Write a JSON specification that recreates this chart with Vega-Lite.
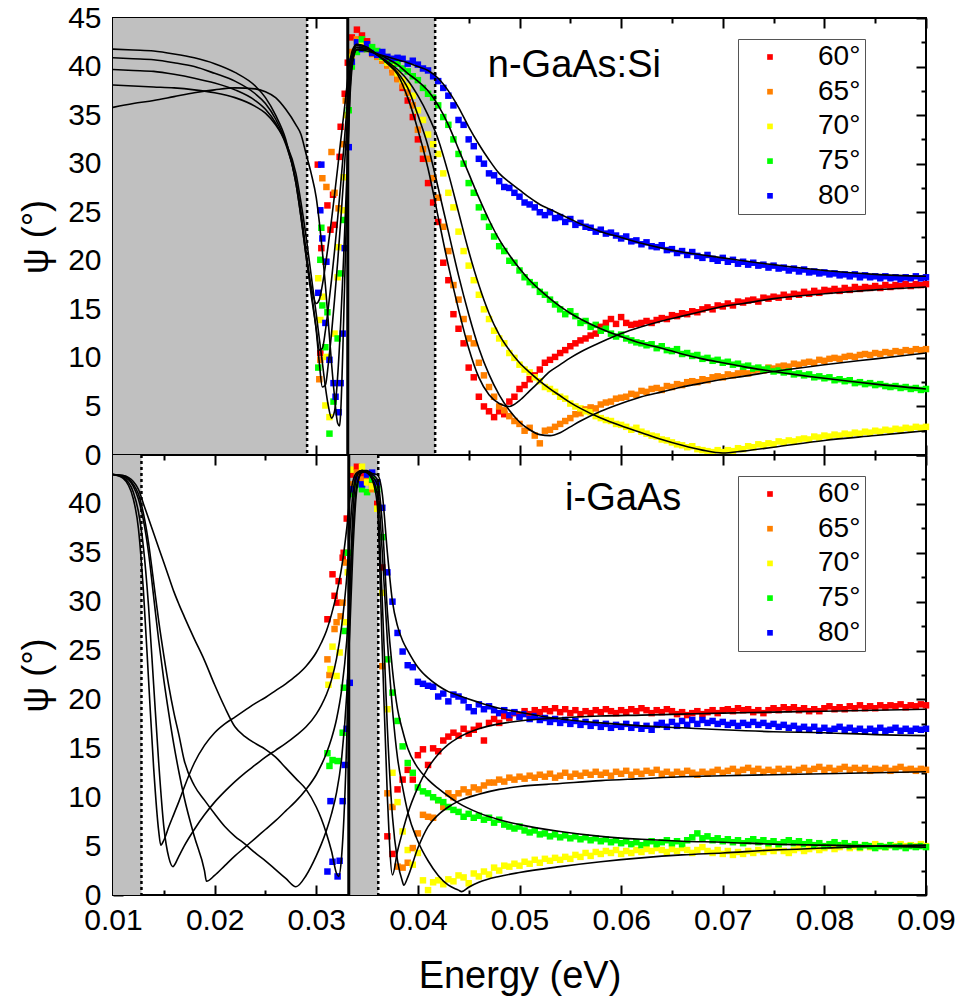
{
"$schema":"https://vega.github.io/schema/vega-lite/v6.json",
"background":"white",
"padding":{"left":17,"top":2,"right":0,"bottom":0},
"spacing":0,
"bounds":"flush",
"datasets":{
"tp":[
{"e":0.0335,"r":43.0,"o":41.5,"y":41.0,"g":40.0,"b":40.5},
{"e":0.034,"r":43.8,"o":42.8,"y":42.5,"g":41.5,"b":42.5},
{"e":0.0345,"r":43.2,"o":42.2,"y":42.6,"g":42.8,"b":41.8},
{"e":0.035,"r":42.6,"o":41.8,"y":42.0,"g":41.8,"b":42.3},
{"e":0.0355,"r":41.5,"o":41.3,"y":41.7,"g":42.0,"b":41.4},
{"e":0.036,"r":41.3,"o":41.0,"y":41.2,"g":41.6,"b":41.2},
{"e":0.0365,"r":40.8,"o":40.6,"y":40.9,"g":41.0,"b":41.5},
{"e":0.037,"r":40.2,"o":40.1,"y":40.4,"g":40.7,"b":41.0},
{"e":0.0375,"r":39.7,"o":39.4,"y":40.0,"g":40.6,"b":40.8},
{"e":0.038,"r":38.8,"o":38.7,"y":39.3,"g":40.3,"b":40.9},
{"e":0.0385,"r":37.8,"o":38.0,"y":38.6,"g":39.8,"b":40.8},
{"e":0.039,"r":36.5,"o":37.3,"y":38.0,"g":39.5,"b":40.3},
{"e":0.0395,"r":34.8,"o":36.0,"y":37.0,"g":39.0,"b":40.6},
{"e":0.04,"r":32.5,"o":33.5,"y":35.5,"g":38.6,"b":40.2},
{"e":0.0405,"r":30.5,"o":31.5,"y":34.5,"g":37.8,"b":39.8},
{"e":0.041,"r":28.0,"o":30.5,"y":33.0,"g":37.2,"b":39.6},
{"e":0.0415,"r":26.0,"o":28.5,"y":32.0,"g":36.8,"b":39.0},
{"e":0.042,"r":24.0,"o":26.5,"y":31.0,"g":36.0,"b":38.5},
{"e":0.0425,"r":19.8,"o":23.5,"y":29.0,"g":34.8,"b":37.8},
{"e":0.043,"r":18.0,"o":21.0,"y":27.0,"g":34.0,"b":37.0},
{"e":0.0435,"r":14.5,"o":17.5,"y":25.5,"g":32.5,"b":36.0},
{"e":0.044,"r":13.0,"o":16.0,"y":23.0,"g":31.0,"b":34.5},
{"e":0.0445,"r":11.5,"o":14.0,"y":21.0,"g":30.0,"b":34.0},
{"e":0.045,"r":9.0,"o":12.0,"y":19.5,"g":28.0,"b":32.5},
{"e":0.0455,"r":8.0,"o":11.5,"y":18.0,"g":27.0,"b":31.8},
{"e":0.046,"r":6.0,"o":9.5,"y":16.5,"g":25.5,"b":30.5},
{"e":0.0465,"r":5.0,"o":8.2,"y":15.0,"g":24.5,"b":30.0},
{"e":0.047,"r":4.5,"o":7.0,"y":14.0,"g":23.5,"b":29.0},
{"e":0.0475,"r":3.9,"o":6.0,"y":12.8,"g":22.5,"b":28.8},
{"e":0.048,"r":4.5,"o":5.0,"y":12.0,"g":21.5,"b":28.2},
{"e":0.0485,"r":4.2,"o":4.6,"y":11.5,"g":21.0,"b":27.6},
{"e":0.049,"r":5.5,"o":4.0,"y":10.5,"g":20.0,"b":27.5},
{"e":0.0495,"r":6.0,"o":3.5,"y":10.0,"g":19.8,"b":27.0},
{"e":0.05,"r":6.8,"o":3.2,"y":9.3,"g":19.0,"b":26.6},
{"e":0.0505,"r":7.2,"o":2.5,"y":8.8,"g":18.3,"b":26.0},
{"e":0.051,"r":7.8,"o":2.8,"y":8.5,"g":17.8,"b":25.8},
{"e":0.0515,"r":8.2,"o":2.0,"y":8.0,"g":17.5,"b":25.5},
{"e":0.052,"r":8.8,"o":1.2,"y":7.6,"g":16.8,"b":25.0},
{"e":0.0525,"r":9.5,"o":2.5,"y":7.0,"g":16.5,"b":24.7},
{"e":0.053,"r":9.8,"o":2.6,"y":6.8,"g":16.0,"b":25.0},
{"e":0.0535,"r":10.1,"o":2.9,"y":6.5,"g":15.5,"b":24.4},
{"e":0.054,"r":10.5,"o":3.2,"y":6.0,"g":15.0,"b":24.5},
{"e":0.0545,"r":10.8,"o":3.5,"y":5.8,"g":14.5,"b":24.0},
{"e":0.055,"r":11.2,"o":3.8,"y":5.3,"g":14.8,"b":24.3},
{"e":0.0555,"r":11.5,"o":4.2,"y":5.0,"g":14.3,"b":23.7},
{"e":0.056,"r":11.8,"o":4.3,"y":4.8,"g":13.6,"b":23.9},
{"e":0.0565,"r":12.0,"o":4.7,"y":4.5,"g":13.8,"b":23.5},
{"e":0.057,"r":12.3,"o":4.9,"y":4.4,"g":13.2,"b":23.4},
{"e":0.0575,"r":12.5,"o":4.8,"y":4.0,"g":13.4,"b":23.0},
{"e":0.058,"r":13.2,"o":5.2,"y":3.8,"g":12.8,"b":23.2},
{"e":0.0585,"r":13.6,"o":5.4,"y":3.6,"g":13.0,"b":22.8},
{"e":0.059,"r":14.0,"o":5.5,"y":3.5,"g":12.5,"b":22.9},
{"e":0.0595,"r":13.5,"o":5.8,"y":3.2,"g":12.2,"b":22.6},
{"e":0.06,"r":14.2,"o":5.9,"y":3.1,"g":12.4,"b":22.3},
{"e":0.0605,"r":13.6,"o":6.0,"y":2.9,"g":12.0,"b":22.5},
{"e":0.061,"r":13.4,"o":6.3,"y":2.6,"g":11.8,"b":22.0},
{"e":0.0615,"r":13.5,"o":6.2,"y":2.8,"g":11.6,"b":22.1},
{"e":0.062,"r":13.6,"o":6.6,"y":2.4,"g":11.5,"b":21.7},
{"e":0.0625,"r":13.8,"o":6.5,"y":2.2,"g":11.3,"b":21.9},
{"e":0.063,"r":13.6,"o":6.8,"y":2.0,"g":11.4,"b":21.5},
{"e":0.0635,"r":13.9,"o":6.9,"y":1.9,"g":11.0,"b":21.4},
{"e":0.064,"r":14.1,"o":6.7,"y":1.6,"g":11.2,"b":21.6},
{"e":0.0645,"r":14.0,"o":7.1,"y":1.5,"g":10.8,"b":21.1},
{"e":0.065,"r":14.4,"o":7.0,"y":1.3,"g":10.7,"b":21.2},
{"e":0.0655,"r":14.3,"o":7.3,"y":1.1,"g":10.9,"b":20.8},
{"e":0.066,"r":14.6,"o":7.2,"y":1.0,"g":10.4,"b":21.0},
{"e":0.0665,"r":14.5,"o":7.5,"y":0.8,"g":10.5,"b":20.6},
{"e":0.067,"r":14.8,"o":7.6,"y":0.9,"g":10.2,"b":20.9},
{"e":0.0675,"r":14.7,"o":7.5,"y":0.6,"g":10.3,"b":20.5},
{"e":0.068,"r":15.0,"o":7.8,"y":0.5,"g":9.9,"b":20.3},
{"e":0.0685,"r":15.2,"o":7.7,"y":0.4,"g":10.0,"b":20.6},
{"e":0.069,"r":15.0,"o":8.0,"y":0.3,"g":9.7,"b":20.2},
{"e":0.0695,"r":15.4,"o":8.1,"y":0.5,"g":9.8,"b":20.0},
{"e":0.07,"r":15.3,"o":8.0,"y":0.3,"g":9.5,"b":20.3},
{"e":0.0705,"r":15.6,"o":8.3,"y":0.5,"g":9.6,"b":19.9},
{"e":0.071,"r":15.4,"o":8.2,"y":0.4,"g":9.3,"b":20.1},
{"e":0.0715,"r":15.8,"o":8.4,"y":0.7,"g":9.4,"b":19.7},
{"e":0.072,"r":15.7,"o":8.5,"y":0.6,"g":9.1,"b":19.9},
{"e":0.0725,"r":15.9,"o":8.4,"y":0.9,"g":9.2,"b":19.6},
{"e":0.073,"r":16.0,"o":8.7,"y":0.8,"g":8.9,"b":19.8},
{"e":0.0735,"r":15.8,"o":8.8,"y":1.1,"g":9.0,"b":19.5},
{"e":0.074,"r":16.2,"o":8.7,"y":1.0,"g":8.8,"b":19.6},
{"e":0.0745,"r":16.1,"o":9.0,"y":1.2,"g":8.9,"b":19.3},
{"e":0.075,"r":16.3,"o":8.9,"y":1.1,"g":8.6,"b":19.5},
{"e":0.0755,"r":16.2,"o":9.1,"y":1.4,"g":8.7,"b":19.2},
{"e":0.076,"r":16.5,"o":9.2,"y":1.3,"g":8.5,"b":19.3},
{"e":0.0765,"r":16.3,"o":9.1,"y":1.5,"g":8.6,"b":19.0},
{"e":0.077,"r":16.6,"o":9.4,"y":1.4,"g":8.3,"b":19.2},
{"e":0.0775,"r":16.5,"o":9.3,"y":1.6,"g":8.4,"b":18.9},
{"e":0.078,"r":16.8,"o":9.5,"y":1.7,"g":8.2,"b":19.1},
{"e":0.0785,"r":16.6,"o":9.6,"y":1.6,"g":8.3,"b":18.8},
{"e":0.079,"r":16.9,"o":9.5,"y":1.9,"g":8.0,"b":18.9},
{"e":0.0795,"r":16.7,"o":9.8,"y":1.8,"g":8.1,"b":18.7},
{"e":0.08,"r":17.0,"o":9.7,"y":2.0,"g":7.9,"b":18.8},
{"e":0.0805,"r":16.9,"o":9.9,"y":1.9,"g":8.0,"b":18.6},
{"e":0.081,"r":17.1,"o":10.0,"y":2.1,"g":7.7,"b":18.7},
{"e":0.0815,"r":16.9,"o":9.9,"y":2.0,"g":7.8,"b":18.5},
{"e":0.082,"r":17.2,"o":10.1,"y":2.2,"g":7.6,"b":18.6},
{"e":0.0825,"r":17.0,"o":10.2,"y":2.1,"g":7.7,"b":18.4},
{"e":0.083,"r":17.3,"o":10.1,"y":2.3,"g":7.4,"b":18.6},
{"e":0.0835,"r":17.1,"o":10.3,"y":2.2,"g":7.5,"b":18.3},
{"e":0.084,"r":17.3,"o":10.4,"y":2.4,"g":7.3,"b":18.5},
{"e":0.0845,"r":17.2,"o":10.3,"y":2.3,"g":7.4,"b":18.3},
{"e":0.085,"r":17.4,"o":10.5,"y":2.5,"g":7.2,"b":18.4},
{"e":0.0855,"r":17.2,"o":10.4,"y":2.4,"g":7.3,"b":18.2},
{"e":0.086,"r":17.5,"o":10.6,"y":2.6,"g":7.1,"b":18.4},
{"e":0.0865,"r":17.3,"o":10.5,"y":2.5,"g":7.0,"b":18.2},
{"e":0.087,"r":17.5,"o":10.7,"y":2.7,"g":7.1,"b":18.3},
{"e":0.0875,"r":17.4,"o":10.6,"y":2.6,"g":6.9,"b":18.1},
{"e":0.088,"r":17.6,"o":10.8,"y":2.8,"g":7.0,"b":18.3},
{"e":0.0885,"r":17.4,"o":10.7,"y":2.7,"g":6.8,"b":18.2},
{"e":0.089,"r":17.6,"o":10.9,"y":2.9,"g":6.9,"b":18.4},
{"e":0.0895,"r":17.5,"o":10.8,"y":2.8,"g":6.7,"b":18.2},
{"e":0.09,"r":17.6,"o":10.9,"y":2.9,"g":6.8,"b":18.3}
],
"tt":[
{"a":"r","e":0.03015,"v":29.9},{"a":"r","e":0.0305,"v":21.3},{"a":"r","e":0.0311,"v":25.7},{"a":"r","e":0.0314,"v":23.2},{"a":"r","e":0.0318,"v":23.7},{"a":"r","e":0.03165,"v":26.8},{"a":"r","e":0.0323,"v":30.7},{"a":"r","e":0.0324,"v":33.8},{"a":"r","e":0.0328,"v":37.2},{"a":"r","e":0.0331,"v":40.4},{"a":"r","e":0.0304,"v":10.5},
{"a":"o","e":0.0315,"v":31.2},{"a":"o","e":0.0306,"v":28.5},{"a":"o","e":0.031,"v":27.6},{"a":"o","e":0.0318,"v":27.0},{"a":"o","e":0.0322,"v":25.4},{"a":"o","e":0.0309,"v":19.9},{"a":"o","e":0.0304,"v":9.8},{"a":"o","e":0.0303,"v":7.8},{"a":"o","e":0.0327,"v":32.0},{"a":"o","e":0.0329,"v":36.5},
{"a":"y","e":0.0302,"v":18.2},{"a":"y","e":0.0304,"v":13.9},{"a":"y","e":0.0306,"v":16.3},{"a":"y","e":0.031,"v":10.1},{"a":"y","e":0.0309,"v":5.1},{"a":"y","e":0.0313,"v":3.9},{"a":"y","e":0.0326,"v":25.2},{"a":"y","e":0.0327,"v":28.6},{"a":"y","e":0.0322,"v":21.4},{"a":"y","e":0.0321,"v":18.3},{"a":"y","e":0.033,"v":35.0},{"a":"y","e":0.0318,"v":12.5},
{"a":"g","e":0.0305,"v":23.4},{"a":"g","e":0.0304,"v":20.1},{"a":"g","e":0.0306,"v":15.4},{"a":"g","e":0.0311,"v":14.7},{"a":"g","e":0.0309,"v":11.1},{"a":"g","e":0.0302,"v":9.0},{"a":"g","e":0.0321,"v":12.0},{"a":"g","e":0.0317,"v":5.5},{"a":"g","e":0.0313,"v":2.2},{"a":"g","e":0.0324,"v":18.7},{"a":"g","e":0.0327,"v":24.2},{"a":"g","e":0.0332,"v":35.5},
{"a":"b","e":0.0304,"v":25.2},{"a":"b","e":0.0305,"v":29.9},{"a":"b","e":0.0306,"v":22.3},{"a":"b","e":0.031,"v":19.9},{"a":"b","e":0.0302,"v":16.7},{"a":"b","e":0.0309,"v":13.6},{"a":"b","e":0.0313,"v":9.8},{"a":"b","e":0.0317,"v":7.4},{"a":"b","e":0.0319,"v":6.0},{"a":"b","e":0.0322,"v":4.4},{"a":"b","e":0.0324,"v":7.4},{"a":"b","e":0.0326,"v":12.5},{"a":"b","e":0.0328,"v":21.3},{"a":"b","e":0.0332,"v":31.7}
],
"tf":[
{"e":0.010,"r":41.8,"o":40.9,"y":39.7,"g":38.1,"b":35.8},
{"e":0.012,"r":41.7,"o":40.8,"y":39.6,"g":38.0,"b":36.2},
{"e":0.014,"r":41.6,"o":40.7,"y":39.5,"g":37.9,"b":36.5},
{"e":0.016,"r":41.3,"o":40.4,"y":39.2,"g":37.8,"b":36.9},
{"e":0.018,"r":40.9,"o":40.0,"y":38.8,"g":37.6,"b":37.3},
{"e":0.020,"r":40.3,"o":39.3,"y":38.3,"g":37.3,"b":37.6},
{"e":0.022,"r":39.4,"o":38.5,"y":37.6,"g":36.8,"b":37.8},
{"e":0.024,"r":38.0,"o":37.2,"y":36.5,"g":35.9,"b":37.7},
{"e":0.025,"r":36.8,"o":36.2,"y":35.6,"g":35.2,"b":37.4},
{"e":0.026,"r":35.0,"o":34.6,"y":34.2,"g":34.0,"b":36.8},
{"e":0.027,"r":32.5,"o":32.2,"y":32.0,"g":32.2,"b":35.6},
{"e":0.028,"r":28.0,"o":28.0,"y":28.3,"g":29.0,"b":34.0},
{"e":0.0285,"r":24.5,"o":24.5,"y":25.0,"g":26.0,"b":33.0},
{"e":0.029,"r":20.5,"o":20.5,"y":21.0,"g":22.5,"b":31.0},
{"e":0.0295,"r":17.3,"o":16.5,"y":17.0,"g":18.5,"b":29.0},
{"e":0.030,"r":15.6,"o":13.0,"y":12.8,"g":14.5,"b":26.5},
{"e":0.0303,"r":16.0,"o":10.8,"y":9.5,"g":12.0,"b":24.0},
{"e":0.0306,"r":17.5,"o":11.0,"y":7.0,"g":9.5,"b":21.0},
{"e":0.0309,"r":19.5,"o":12.8,"y":7.2,"g":7.0,"b":17.5},
{"e":0.0312,"r":21.8,"o":15.3,"y":9.5,"g":5.0,"b":13.5},
{"e":0.0315,"r":24.2,"o":18.0,"y":12.5,"g":3.8,"b":9.5},
{"e":0.0318,"r":26.8,"o":21.0,"y":16.0,"g":4.5,"b":6.0},
{"e":0.0321,"r":29.5,"o":24.3,"y":19.8,"g":8.0,"b":3.3},
{"e":0.0323,"b":3.0},
{"e":0.0324,"r":32.3,"o":27.8,"y":24.0,"g":13.5,"b":4.3},
{"e":0.0327,"r":35.0,"o":31.5,"y":28.5,"g":20.5,"b":14.0},
{"e":0.033,"r":37.8,"o":35.5,"y":33.5,"g":28.5,"b":26.0},
{"e":0.0333,"r":40.5,"o":39.5,"y":38.5,"g":36.5,"b":37.0},
{"e":0.0336,"r":41.8,"o":41.5,"y":41.2,"g":40.5,"b":40.8},
{"e":0.034,"r":42.3,"o":42.2,"y":42.0,"g":41.8,"b":41.7},
{"e":0.035,"r":42.0,"o":41.9,"y":41.8,"g":41.8,"b":41.6},
{"e":0.036,"r":41.2,"o":41.2,"y":41.2,"g":41.3,"b":41.3},
{"e":0.037,"r":40.3,"o":40.4,"y":40.5,"g":40.8,"b":41.0},
{"e":0.038,"r":39.2,"o":39.4,"y":39.7,"g":40.2,"b":40.7},
{"e":0.039,"r":36.8,"o":37.8,"y":38.6,"g":39.3,"b":40.4},
{"e":0.040,"r":33.5,"o":35.0,"y":37.0,"g":38.5,"b":40.0},
{"e":0.041,"r":29.5,"o":31.8,"y":35.0,"g":37.5,"b":39.6},
{"e":0.042,"r":24.5,"o":27.5,"y":32.5,"g":36.0,"b":38.8},
{"e":0.043,"r":19.5,"o":23.0,"y":29.0,"g":34.0,"b":37.5},
{"e":0.044,"r":15.0,"o":18.5,"y":25.0,"g":31.5,"b":35.8},
{"e":0.045,"r":11.0,"o":14.5,"y":21.0,"g":29.0,"b":33.8},
{"e":0.046,"r":8.0,"o":11.0,"y":17.5,"g":26.5,"b":32.0},
{"e":0.047,"r":6.2,"o":8.3,"y":14.6,"g":24.2,"b":30.4},
{"e":0.048,"r":5.3,"o":6.2,"y":12.4,"g":22.2,"b":29.0},
{"e":0.049,"r":5.0,"o":4.6,"y":10.8,"g":20.6,"b":28.1},
{"e":0.050,"r":5.6,"o":3.4,"y":9.5,"g":19.2,"b":27.3},
{"e":0.051,"r":6.6,"o":2.6,"y":8.5,"g":18.0,"b":26.5},
{"e":0.052,"r":7.6,"o":2.1,"y":7.6,"g":17.0,"b":25.8},
{"e":0.053,"r":8.6,"o":2.0,"y":6.8,"g":16.1,"b":25.3},
{"e":0.054,"r":9.3,"o":2.3,"y":6.1,"g":15.3,"b":24.8},
{"e":0.055,"r":10.0,"o":2.9,"y":5.4,"g":14.6,"b":24.3},
{"e":0.056,"r":10.6,"o":3.5,"y":4.8,"g":14.0,"b":23.8},
{"e":0.058,"r":11.6,"o":4.5,"y":3.8,"g":13.0,"b":23.0},
{"e":0.060,"r":12.5,"o":5.3,"y":3.0,"g":12.2,"b":22.4},
{"e":0.062,"r":13.2,"o":6.0,"y":2.3,"g":11.5,"b":21.8},
{"e":0.064,"r":13.8,"o":6.5,"y":1.6,"g":11.0,"b":21.3},
{"e":0.066,"r":14.3,"o":7.0,"y":1.0,"g":10.4,"b":20.9},
{"e":0.068,"r":14.8,"o":7.4,"y":0.5,"g":9.9,"b":20.6},
{"e":0.070,"r":15.3,"o":7.8,"y":0.2,"g":9.5,"b":20.3},
{"e":0.072,"r":15.6,"o":8.1,"y":0.4,"g":9.1,"b":20.0},
{"e":0.075,"r":16.1,"o":8.6,"y":0.8,"g":8.6,"b":19.6},
{"e":0.080,"r":16.6,"o":9.3,"y":1.5,"g":7.9,"b":19.0},
{"e":0.085,"r":17.0,"o":9.9,"y":2.0,"g":7.3,"b":18.6},
{"e":0.090,"r":17.3,"o":10.5,"y":2.5,"g":6.8,"b":18.4}
],
"bp":[
{"e":0.0335,"r":43.0,"o":42.0,"y":43.5,"g":41.0,"b":41.5},
{"e":0.034,"r":43.8,"o":43.2,"y":42.5,"g":42.0,"b":42.5},
{"e":0.0345,"r":43.0,"o":42.5,"y":43.8,"g":41.5,"b":42.0},
{"e":0.035,"r":42.5,"o":42.8,"y":42.2,"g":41.2,"b":43.0},
{"e":0.0355,"r":42.0,"o":41.5,"y":41.8,"g":42.5,"b":43.2},
{"e":0.036,"r":40.0,"o":39.5,"y":39.5,"g":41.5,"b":42.2},
{"e":0.0365,"r":33.5,"o":23.4,"y":30.9,"g":36.6,"b":39.6},
{"e":0.037,"r":6.0,"o":10.4,"y":19.0,"g":24.1,"b":33.0},
{"e":0.0375,"r":4.2,"o":9.0,"y":12.5,"g":20.7,"b":30.0},
{"e":0.038,"r":10.8,"o":2.9,"y":9.5,"g":17.8,"b":26.8},
{"e":0.0385,"r":11.8,"o":2.8,"y":6.5,"g":15.2,"b":24.9},
{"e":0.039,"r":12.8,"o":3.3,"y":4.6,"g":13.5,"b":23.5},
{"e":0.0395,"r":11.8,"o":4.8,"y":3.1,"g":12.5,"b":23.3},
{"e":0.04,"r":14.3,"o":6.3,"y":4.3,"g":11.0,"b":21.8},
{"e":0.0405,"r":14.9,"o":8.2,"y":1.5,"g":10.6,"b":21.6},
{"e":0.041,"r":13.3,"o":8.0,"y":0.5,"g":10.4,"b":21.4},
{"e":0.0415,"r":15.0,"o":7.9,"y":1.3,"g":10.0,"b":21.3},
{"e":0.042,"r":14.7,"o":9.7,"y":1.5,"g":9.7,"b":20.3},
{"e":0.0425,"r":15.8,"o":9.0,"y":1.1,"g":9.5,"b":20.6},
{"e":0.043,"r":16.2,"o":10.4,"y":1.6,"g":9.0,"b":19.8},
{"e":0.0435,"r":16.6,"o":10.0,"y":1.4,"g":8.7,"b":20.5},
{"e":0.044,"r":16.3,"o":10.4,"y":2.0,"g":8.5,"b":20.3},
{"e":0.0445,"r":17.0,"o":10.8,"y":1.8,"g":8.0,"b":19.9},
{"e":0.045,"r":16.5,"o":10.5,"y":1.2,"g":8.3,"b":19.2},
{"e":0.0455,"r":16.9,"o":11.0,"y":2.2,"g":7.9,"b":18.8},
{"e":0.046,"r":17.3,"o":10.8,"y":1.9,"g":8.1,"b":19.5},
{"e":0.0465,"r":15.8,"o":11.2,"y":2.4,"g":7.7,"b":19.0},
{"e":0.047,"r":17.6,"o":11.5,"y":2.1,"g":7.9,"b":19.3},
{"e":0.0475,"r":18.0,"o":11.5,"y":2.8,"g":7.4,"b":18.9},
{"e":0.048,"r":17.6,"o":11.8,"y":2.5,"g":7.7,"b":18.6},
{"e":0.0485,"r":18.3,"o":11.6,"y":3.0,"g":7.2,"b":18.9},
{"e":0.049,"r":18.1,"o":12.0,"y":2.9,"g":7.0,"b":18.4},
{"e":0.0495,"r":18.6,"o":11.8,"y":3.2,"g":6.8,"b":18.7},
{"e":0.05,"r":18.4,"o":12.1,"y":3.0,"g":7.0,"b":18.2},
{"e":0.0505,"r":18.8,"o":11.9,"y":3.4,"g":6.6,"b":18.5},
{"e":0.051,"r":18.5,"o":12.2,"y":3.2,"g":6.4,"b":18.0},
{"e":0.0515,"r":18.9,"o":12.0,"y":3.6,"g":6.6,"b":18.3},
{"e":0.052,"r":18.7,"o":12.3,"y":3.3,"g":6.2,"b":17.9},
{"e":0.0525,"r":19.0,"o":12.1,"y":3.7,"g":6.3,"b":18.1},
{"e":0.053,"r":18.8,"o":12.4,"y":3.5,"g":6.0,"b":17.7},
{"e":0.0535,"r":19.1,"o":12.0,"y":3.8,"g":6.2,"b":18.0},
{"e":0.054,"r":18.7,"o":12.2,"y":3.6,"g":5.9,"b":17.6},
{"e":0.0545,"r":19.0,"o":12.5,"y":3.9,"g":6.1,"b":17.9},
{"e":0.055,"r":18.6,"o":12.1,"y":3.7,"g":5.8,"b":17.5},
{"e":0.0555,"r":18.9,"o":12.4,"y":4.1,"g":6.0,"b":17.8},
{"e":0.056,"r":18.5,"o":12.2,"y":3.9,"g":5.7,"b":17.4},
{"e":0.0565,"r":18.8,"o":12.5,"y":4.3,"g":5.9,"b":17.7},
{"e":0.057,"r":18.6,"o":12.3,"y":4.0,"g":5.6,"b":17.3},
{"e":0.0575,"r":18.9,"o":12.6,"y":4.4,"g":5.8,"b":17.6},
{"e":0.058,"r":18.7,"o":12.3,"y":4.2,"g":5.5,"b":17.2},
{"e":0.0585,"r":19.0,"o":12.5,"y":4.5,"g":5.7,"b":17.5},
{"e":0.059,"r":18.8,"o":12.2,"y":4.3,"g":5.4,"b":17.1},
{"e":0.0595,"r":18.6,"o":12.6,"y":4.6,"g":5.6,"b":17.4},
{"e":0.06,"r":18.9,"o":12.4,"y":4.2,"g":5.3,"b":17.2},
{"e":0.0605,"r":18.7,"o":12.7,"y":4.5,"g":5.5,"b":17.5},
{"e":0.061,"r":19.0,"o":12.3,"y":4.3,"g":5.2,"b":17.1},
{"e":0.0615,"r":18.8,"o":12.6,"y":4.6,"g":5.4,"b":17.4},
{"e":0.062,"r":19.1,"o":12.4,"y":4.4,"g":5.1,"b":17.0},
{"e":0.0625,"r":18.9,"o":12.7,"y":4.7,"g":5.3,"b":17.3},
{"e":0.063,"r":18.6,"o":12.5,"y":4.5,"g":5.5,"b":16.9},
{"e":0.0635,"r":18.9,"o":12.8,"y":4.8,"g":5.2,"b":17.4},
{"e":0.064,"r":18.7,"o":12.4,"y":4.6,"g":5.4,"b":17.6},
{"e":0.0645,"r":19.0,"o":12.6,"y":4.4,"g":5.6,"b":17.2},
{"e":0.065,"r":18.8,"o":12.3,"y":4.7,"g":5.3,"b":17.7},
{"e":0.0655,"r":18.5,"o":12.6,"y":4.5,"g":5.5,"b":17.3},
{"e":0.066,"r":18.7,"o":12.4,"y":4.8,"g":5.2,"b":17.8},
{"e":0.0665,"r":18.4,"o":12.7,"y":4.6,"g":5.6,"b":17.4},
{"e":0.067,"r":18.6,"o":12.5,"y":4.3,"g":5.9,"b":17.9},
{"e":0.0675,"r":18.8,"o":12.3,"y":4.6,"g":6.3,"b":17.5},
{"e":0.068,"r":18.5,"o":12.6,"y":4.9,"g":5.8,"b":17.9},
{"e":0.0685,"r":18.7,"o":12.4,"y":4.5,"g":6.0,"b":17.6},
{"e":0.069,"r":18.9,"o":12.6,"y":4.3,"g":5.6,"b":17.8},
{"e":0.0695,"r":18.6,"o":12.8,"y":4.6,"g":5.8,"b":17.5},
{"e":0.07,"r":18.9,"o":12.5,"y":4.2,"g":5.5,"b":17.7},
{"e":0.0705,"r":19.0,"o":12.7,"y":4.5,"g":5.7,"b":17.4},
{"e":0.071,"r":18.8,"o":12.9,"y":4.1,"g":5.4,"b":17.6},
{"e":0.0715,"r":19.1,"o":12.6,"y":4.4,"g":5.6,"b":17.3},
{"e":0.072,"r":18.9,"o":12.8,"y":4.2,"g":5.3,"b":17.6},
{"e":0.0725,"r":19.0,"o":13.0,"y":4.5,"g":5.5,"b":17.4},
{"e":0.073,"r":18.7,"o":12.7,"y":4.3,"g":5.7,"b":17.7},
{"e":0.0735,"r":18.9,"o":12.9,"y":4.6,"g":5.4,"b":17.4},
{"e":0.074,"r":18.6,"o":12.6,"y":4.4,"g":5.6,"b":17.6},
{"e":0.0745,"r":18.9,"o":12.8,"y":4.7,"g":5.3,"b":17.3},
{"e":0.075,"r":19.1,"o":12.6,"y":4.5,"g":5.5,"b":17.5},
{"e":0.0755,"r":18.9,"o":12.9,"y":4.8,"g":5.2,"b":17.2},
{"e":0.076,"r":19.2,"o":12.7,"y":4.5,"g":5.4,"b":17.4},
{"e":0.0765,"r":19.0,"o":12.9,"y":4.3,"g":5.6,"b":17.1},
{"e":0.077,"r":19.2,"o":12.6,"y":4.6,"g":5.3,"b":17.3},
{"e":0.0775,"r":18.9,"o":12.8,"y":4.8,"g":5.5,"b":17.0},
{"e":0.078,"r":19.1,"o":13.0,"y":4.5,"g":5.2,"b":17.2},
{"e":0.0785,"r":18.8,"o":12.7,"y":4.7,"g":5.4,"b":16.9},
{"e":0.079,"r":19.0,"o":12.9,"y":4.9,"g":5.1,"b":17.2},
{"e":0.0795,"r":18.8,"o":13.1,"y":4.6,"g":5.3,"b":16.8},
{"e":0.08,"r":19.1,"o":12.8,"y":4.8,"g":5.0,"b":17.1},
{"e":0.0805,"r":19.3,"o":13.0,"y":5.0,"g":5.2,"b":16.8},
{"e":0.081,"r":19.0,"o":12.7,"y":4.7,"g":5.4,"b":17.0},
{"e":0.0815,"r":19.2,"o":12.9,"y":4.9,"g":5.1,"b":17.2},
{"e":0.082,"r":19.0,"o":13.1,"y":5.1,"g":5.3,"b":16.9},
{"e":0.0825,"r":19.3,"o":12.8,"y":4.8,"g":5.0,"b":17.1},
{"e":0.083,"r":19.1,"o":13.0,"y":5.0,"g":5.2,"b":16.8},
{"e":0.0835,"r":19.4,"o":12.8,"y":4.8,"g":4.9,"b":17.0},
{"e":0.084,"r":19.1,"o":13.0,"y":5.1,"g":5.1,"b":16.7},
{"e":0.0845,"r":19.3,"o":12.7,"y":4.9,"g":5.0,"b":17.0},
{"e":0.085,"r":19.1,"o":12.9,"y":5.2,"g":4.8,"b":16.8},
{"e":0.0855,"r":19.4,"o":12.8,"y":5.0,"g":5.0,"b":17.1},
{"e":0.086,"r":19.2,"o":13.0,"y":4.9,"g":4.9,"b":16.8},
{"e":0.0865,"r":19.4,"o":12.7,"y":5.1,"g":5.1,"b":16.9},
{"e":0.087,"r":19.3,"o":12.9,"y":5.0,"g":4.9,"b":17.1},
{"e":0.0875,"r":19.5,"o":13.1,"y":5.2,"g":5.0,"b":16.8},
{"e":0.088,"r":19.2,"o":12.8,"y":5.0,"g":4.8,"b":17.0},
{"e":0.0885,"r":19.4,"o":12.9,"y":5.1,"g":5.0,"b":16.8},
{"e":0.089,"r":19.3,"o":12.7,"y":5.0,"g":4.9,"b":17.0},
{"e":0.0895,"r":19.5,"o":12.9,"y":5.2,"g":5.0,"b":16.9},
{"e":0.09,"r":19.4,"o":12.8,"y":5.0,"g":4.9,"b":17.0}
],
"bt":[
{"a":"r","e":0.0311,"v":28.2},{"a":"r","e":0.0316,"v":32.8},{"a":"r","e":0.0318,"v":30.6},{"a":"r","e":0.0326,"v":34.5},{"a":"r","e":0.0327,"v":35.0},{"a":"r","e":0.0322,"v":32.1},{"a":"r","e":0.0321,"v":29.9},{"a":"r","e":0.033,"v":38.5},
{"a":"o","e":0.0311,"v":24.1},{"a":"o","e":0.0318,"v":27.2},{"a":"o","e":0.032,"v":27.9},{"a":"o","e":0.0326,"v":29.9},{"a":"o","e":0.0324,"v":28.5},{"a":"o","e":0.0313,"v":22.5},{"a":"o","e":0.0329,"v":34.0},
{"a":"y","e":0.0316,"v":25.4},{"a":"y","e":0.0314,"v":23.1},{"a":"y","e":0.032,"v":22.4},{"a":"y","e":0.0323,"v":24.8},{"a":"y","e":0.0328,"v":27.9},{"a":"y","e":0.0312,"v":21.5},{"a":"y","e":0.0331,"v":33.0},
{"a":"g","e":0.0311,"v":14.5},{"a":"g","e":0.0316,"v":13.8},{"a":"g","e":0.0321,"v":13.7},{"a":"g","e":0.0326,"v":16.6},{"a":"g","e":0.0327,"v":21.2},{"a":"g","e":0.0328,"v":27.0},{"a":"g","e":0.0313,"v":13.2},{"a":"g","e":0.0331,"v":35.0},
{"a":"b","e":0.0314,"v":9.6},{"a":"b","e":0.0326,"v":9.6},{"a":"b","e":0.0316,"v":3.4},{"a":"b","e":0.0311,"v":2.4},{"a":"b","e":0.0321,"v":1.9},{"a":"b","e":0.0323,"v":3.5},{"a":"b","e":0.0328,"v":13.3},{"a":"b","e":0.0333,"v":21.7},{"a":"b","e":0.033,"v":17.0}
],
"bf":[
{"e":0.010,"r":43.0,"o":43.0,"y":43.0,"g":43.0,"b":43.0},
{"e":0.011,"r":42.6,"o":42.7,"y":42.8,"g":42.9,"b":42.9},
{"e":0.012,"r":40.5,"o":41.2,"y":41.8,"g":42.0,"b":42.3},
{"e":0.0125,"r":37.5,"o":39.2,"y":40.5,"g":41.0,"b":41.5},
{"e":0.013,"r":31.0,"o":35.5,"y":38.3,"g":39.0,"b":40.0},
{"e":0.0135,"r":22.0,"o":29.5,"y":35.0,"g":36.0,"b":38.5},
{"e":0.014,"r":13.0,"o":21.5,"y":30.5,"g":32.0,"b":37.0},
{"e":0.0145,"r":6.5,"o":13.5,"y":26.0,"g":28.0,"b":35.5},
{"e":0.0147,"r":5.1},
{"e":0.015,"r":5.6,"o":7.0,"y":22.0,"g":24.5,"b":34.0},
{"e":0.0155,"r":7.0,"o":3.8,"y":18.5,"g":21.3,"b":32.5},
{"e":0.0159,"o":2.9},
{"e":0.016,"r":8.3,"o":3.0,"y":15.3,"g":18.6,"b":31.0},
{"e":0.0165,"r":9.6,"o":4.0,"y":12.5,"g":16.3,"b":29.7},
{"e":0.017,"r":11.0,"o":5.0,"y":10.0,"g":13.8,"b":28.5},
{"e":0.018,"r":13.5,"o":6.7,"y":6.0,"g":11.2,"b":26.2},
{"e":0.019,"r":15.3,"o":8.2,"y":2.5,"g":9.7,"b":24.0},
{"e":0.0192,"y":1.4},
{"e":0.020,"r":16.6,"o":9.5,"y":2.0,"g":8.3,"b":21.5},
{"e":0.021,"r":17.5,"o":10.6,"y":3.0,"g":7.0,"b":19.2},
{"e":0.022,"r":18.2,"o":11.6,"y":4.0,"g":6.0,"b":17.2},
{"e":0.023,"r":18.9,"o":12.5,"y":4.9,"g":5.2,"b":16.2},
{"e":0.024,"r":19.6,"o":13.3,"y":5.8,"g":4.3,"b":15.5},
{"e":0.025,"r":20.2,"o":14.1,"y":6.7,"g":3.5,"b":14.9},
{"e":0.026,"r":20.9,"o":14.8,"y":7.6,"g":2.6,"b":14.1},
{"e":0.027,"r":21.6,"o":15.5,"y":8.6,"g":1.7,"b":13.0},
{"e":0.028,"r":22.4,"o":16.3,"y":9.6,"g":0.85,"b":11.9},
{"e":0.029,"r":23.4,"o":17.2,"y":10.8,"g":2.0,"b":10.8},
{"e":0.030,"r":24.8,"o":18.5,"y":12.3,"g":4.0,"b":9.0},
{"e":0.0305,"r":25.8,"o":19.4,"y":13.3,"g":5.2,"b":7.8},
{"e":0.031,"r":27.0,"o":20.5,"y":14.5,"g":6.6,"b":6.3},
{"e":0.0315,"r":28.7,"o":22.0,"y":16.0,"g":8.3,"b":4.5},
{"e":0.032,"r":30.8,"o":24.2,"y":18.0,"g":10.5,"b":2.2},
{"e":0.0322,"b":1.9},
{"e":0.0325,"r":33.5,"o":27.5,"y":21.0,"g":14.0,"b":4.0},
{"e":0.033,"r":37.5,"o":32.5,"y":26.0,"g":20.5,"b":16.0},
{"e":0.0333,"r":40.5,"o":37.0,"y":31.0,"g":27.0,"b":30.0},
{"e":0.0336,"r":42.3,"o":41.0,"y":37.0,"g":35.0,"b":39.0},
{"e":0.034,"r":43.2,"o":43.0,"y":42.0,"g":41.5,"b":42.8},
{"e":0.0345,"r":43.4,"o":43.4,"y":43.3,"g":43.2,"b":43.4},
{"e":0.035,"r":43.2,"o":43.2,"y":43.2,"g":43.3,"b":43.4},
{"e":0.0355,"r":42.5,"o":42.6,"y":42.8,"g":43.0,"b":43.1},
{"e":0.036,"r":40.0,"o":41.0,"y":42.0,"g":42.5,"b":43.0},
{"e":0.0365,"r":25.0,"o":30.0,"y":35.0,"g":38.0,"b":41.0},
{"e":0.037,"r":10.0,"o":17.0,"y":26.0,"g":29.0,"b":35.0},
{"e":0.0375,"r":2.05,"o":8.0,"y":19.0,"g":23.0,"b":30.0},
{"e":0.038,"r":4.5,"o":3.5,"y":14.0,"g":19.0,"b":27.5},
{"e":0.0385,"r":6.5,"o":1.3,"y":11.0,"g":16.8,"b":26.0},
{"e":0.0386,"o":1.0},
{"e":0.039,"r":8.3,"o":1.8,"y":8.5,"g":15.0,"b":25.0},
{"e":0.040,"r":11.0,"o":4.8,"y":5.5,"g":13.0,"b":23.3},
{"e":0.041,"r":13.0,"o":7.0,"y":3.5,"g":11.8,"b":22.2},
{"e":0.042,"r":14.4,"o":8.2,"y":2.0,"g":10.9,"b":21.4},
{"e":0.043,"r":15.4,"o":9.0,"y":1.0,"g":10.1,"b":20.8},
{"e":0.044,"r":16.1,"o":9.6,"y":0.5,"g":9.4,"b":20.4},
{"e":0.0443,"y":0.35},
{"e":0.045,"y":0.8},
{"e":0.046,"r":17.0,"o":10.3,"y":1.3,"g":8.4,"b":19.7},
{"e":0.048,"r":17.5,"o":10.8,"y":1.9,"g":7.7,"b":19.1},
{"e":0.050,"r":17.8,"o":11.1,"y":2.3,"g":7.2,"b":18.7},
{"e":0.054,"r":18.1,"o":11.4,"y":2.9,"g":6.5,"b":18.0},
{"e":0.058,"r":18.3,"o":11.7,"y":3.4,"g":6.0,"b":17.6},
{"e":0.062,"r":18.4,"o":11.9,"y":3.8,"g":5.7,"b":17.3},
{"e":0.066,"r":18.5,"o":12.1,"y":4.1,"g":5.5,"b":17.1},
{"e":0.070,"r":18.6,"o":12.2,"y":4.3,"g":5.4,"b":16.9},
{"e":0.075,"r":18.7,"o":12.3,"y":4.6,"g":5.2,"b":16.7},
{"e":0.080,"r":18.8,"o":12.4,"y":4.8,"g":5.1,"b":16.6},
{"e":0.085,"r":18.9,"o":12.5,"y":5.0,"g":5.0,"b":16.4},
{"e":0.090,"r":19.0,"o":12.6,"y":5.1,"g":4.9,"b":16.3}
]
},
"vconcat":[
{
"width":813,"height":437,
"resolve":{"axis":{"x":"independent","y":"independent"}},
"layer":[
{"data":{"values":[{"x1":0.01,"x2":0.0291},{"x1":0.0331,"x2":0.0417}]},
 "mark":{"type":"rect","color":"#c0c0c0"},
 "encoding":{
  "x":{"field":"x1","type":"quantitative","scale":{"domain":[0.01,0.09],"nice":false,"zero":false},"axis":{"orient":"top","values":[0.01,0.02,0.03,0.04,0.05,0.06,0.07,0.08,0.09],"labels":false,"title":null,"tickSize":-10}},
  "x2":{"field":"x2"},
  "y":{"datum":0,"type":"quantitative","scale":{"domain":[0,45],"nice":false,"zero":false},"axis":{"orient":"right","values":[0,5,10,15,20,25,30,35,40,45],"labels":false,"title":null,"tickSize":-10}},
  "y2":{"datum":45}}},
{"data":{"name":"tt"},
 "mark":{"type":"square","size":42,"opacity":1},
 "encoding":{
  "x":{"field":"e","type":"quantitative","axis":null},
  "y":{"field":"v","type":"quantitative","axis":{"orient":"right","values":[2.5,7.5,12.5,17.5,22.5,27.5,32.5,37.5,42.5],"labels":false,"title":null,"tickSize":-5}},
  "color":{"field":"a","type":"nominal","scale":{"domain":["r","o","y","g","b"],"range":["#ff0000","#ff8000","#ffff00","#00ff00","#0000ff"]},
   "legend":{"title":null,"orient":"none","legendX":625,"legendY":21,"symbolType":"square","symbolSize":32,"labelFontSize":28,"labelFont":"Liberation Sans","labelExpr":"{'r':'60°','o':'65°','y':'70°','g':'75°','b':'80°'}[datum.value]","padding":4,"strokeColor":"#555","fillColor":"white","rowPadding":6.7,"symbolOffset":14,"labelOffset":34,"encode":{"labels":{"update":{"fill":{"signal":"{'r':'#ff0000','o':'#ff8000','y':'#ffff80','g':'#00ff00','b':'#0000ff'}[datum.value]"}}}}}}}},
{"data":{"name":"tp"},
 "transform":[{"fold":["r","o","y","g","b"],"as":["a","v"]},{"filter":"isValid(datum.v)"}],
 "mark":{"type":"square","size":42,"opacity":1},
 "encoding":{
  "x":{"field":"e","type":"quantitative","axis":{"orient":"bottom","values":[0.01,0.02,0.03,0.04,0.05,0.06,0.07,0.08,0.09],"labels":false,"title":null,"tickSize":-10}},
  "y":{"field":"v","type":"quantitative","axis":{"orient":"left","values":[0,5,10,15,20,25,30,35,40,45],"format":"d","title":"ψ (°)","tickSize":-10,"labelPadding":22,"titlePadding":12}},
  "color":{"field":"a","type":"nominal"}}},
{"data":{"name":"tf"},
 "transform":[{"fold":["r","o","y","g","b"],"as":["a","v"]},{"filter":"isValid(datum.v)"}],
 "mark":{"type":"line","color":"black","strokeWidth":1.6,"interpolate":"monotone"},
 "encoding":{
  "x":{"field":"e","type":"quantitative","axis":{"orient":"bottom","values":[0.015,0.025,0.035,0.045,0.055,0.065,0.075,0.085],"labels":false,"title":null,"tickSize":-5}},
  "y":{"field":"v","type":"quantitative","axis":{"orient":"left","values":[2.5,7.5,12.5,17.5,22.5,27.5,32.5,37.5,42.5],"labels":false,"title":null,"tickSize":-5}},
  "detail":{"field":"a"}}},
{"data":{"values":[{"e":0.0291},{"e":0.0417}]},
 "mark":{"type":"rule","strokeWidth":2.5,"strokeDash":[3,3],"color":"black"},
 "encoding":{"x":{"field":"e","type":"quantitative","axis":{"orient":"top","values":[0.015,0.025,0.035,0.045,0.055,0.065,0.075,0.085],"labels":false,"title":null,"tickSize":-5}}}},
{"data":{"values":[{"e":0.0331}]},
 "mark":{"type":"rule","strokeWidth":3,"color":"black"},
 "encoding":{"x":{"field":"e","type":"quantitative","axis":null}}},
{"data":{"values":[{"t":"n-GaAs:Si","e":0.0554,"v":40.1}]},
 "mark":{"type":"text","fontSize":38,"font":"Liberation Sans","align":"center","baseline":"middle","color":"black"},
 "encoding":{"x":{"field":"e","type":"quantitative","axis":null},"y":{"field":"v","type":"quantitative","axis":null},"text":{"field":"t"}}}
]},
{
"width":813,"height":440,
"resolve":{"axis":{"x":"independent","y":"independent"}},
"layer":[
{"data":{"values":[{"x1":0.01,"x2":0.0128},{"x1":0.0332,"x2":0.0361}]},
 "mark":{"type":"rect","color":"#c0c0c0"},
 "encoding":{
  "x":{"field":"x1","type":"quantitative","scale":{"domain":[0.01,0.09],"nice":false,"zero":false},"axis":{"orient":"top","values":[0.01,0.02,0.03,0.04,0.05,0.06,0.07,0.08,0.09],"labels":false,"title":null,"tickSize":-10}},
  "x2":{"field":"x2"},
  "y":{"datum":0,"type":"quantitative","scale":{"domain":[0,45],"nice":false,"zero":false},"axis":{"orient":"right","values":[0,5,10,15,20,25,30,35,40,45],"labels":false,"title":null,"tickSize":-10}},
  "y2":{"datum":45}}},
{"data":{"name":"bt"},
 "mark":{"type":"square","size":42,"opacity":1},
 "encoding":{
  "x":{"field":"e","type":"quantitative","axis":null},
  "y":{"field":"v","type":"quantitative","axis":{"orient":"right","values":[2.5,7.5,12.5,17.5,22.5,27.5,32.5,37.5,42.5],"labels":false,"title":null,"tickSize":-5}},
  "color":{"field":"a","type":"nominal","scale":{"domain":["r","o","y","g","b"],"range":["#ff0000","#ff8000","#ffff00","#00ff00","#0000ff"]},
   "legend":{"title":null,"orient":"none","legendX":625,"legendY":21,"symbolType":"square","symbolSize":32,"labelFontSize":28,"labelFont":"Liberation Sans","labelExpr":"{'r':'60°','o':'65°','y':'70°','g':'75°','b':'80°'}[datum.value]","padding":4,"strokeColor":"#555","fillColor":"white","rowPadding":6.7,"symbolOffset":14,"labelOffset":34,"encode":{"labels":{"update":{"fill":{"signal":"{'r':'#ff0000','o':'#ff8000','y':'#ffff80','g':'#00ff00','b':'#0000ff'}[datum.value]"}}}}}}}},
{"data":{"name":"bp"},
 "transform":[{"fold":["r","o","y","g","b"],"as":["a","v"]},{"filter":"isValid(datum.v)"}],
 "mark":{"type":"square","size":42,"opacity":1},
 "encoding":{
  "x":{"field":"e","type":"quantitative","axis":{"orient":"bottom","values":[0.01,0.02,0.03,0.04,0.05,0.06,0.07,0.08,0.09],"format":".2f","title":"Energy (eV)","tickSize":-10,"labelPadding":20,"titlePadding":22,"titleFontSize":38}},
  "y":{"field":"v","type":"quantitative","axis":{"orient":"left","values":[0,5,10,15,20,25,30,35,40],"format":"d","title":"ψ (°)","tickSize":-10,"labelPadding":22,"titlePadding":12}},
  "color":{"field":"a","type":"nominal"}}},
{"data":{"name":"bf"},
 "transform":[{"fold":["r","o","y","g","b"],"as":["a","v"]},{"filter":"isValid(datum.v)"}],
 "mark":{"type":"line","color":"black","strokeWidth":1.6,"interpolate":"monotone"},
 "encoding":{
  "x":{"field":"e","type":"quantitative","axis":{"orient":"bottom","values":[0.015,0.025,0.035,0.045,0.055,0.065,0.075,0.085],"labels":false,"title":null,"tickSize":-5}},
  "y":{"field":"v","type":"quantitative","axis":{"orient":"left","values":[2.5,7.5,12.5,17.5,22.5,27.5,32.5,37.5,42.5],"labels":false,"title":null,"tickSize":-5}},
  "detail":{"field":"a"}}},
{"data":{"values":[{"e":0.0128},{"e":0.0361}]},
 "mark":{"type":"rule","strokeWidth":2.5,"strokeDash":[3,3],"color":"black"},
 "encoding":{"x":{"field":"e","type":"quantitative","axis":{"orient":"top","values":[0.015,0.025,0.035,0.045,0.055,0.065,0.075,0.085],"labels":false,"title":null,"tickSize":-5}}}},
{"data":{"values":[{"e":0.0332}]},
 "mark":{"type":"rule","strokeWidth":3,"color":"black"},
 "encoding":{"x":{"field":"e","type":"quantitative","axis":null}}},
{"data":{"values":[{"t":"i-GaAs","e":0.0602,"v":40.5}]},
 "mark":{"type":"text","fontSize":38,"font":"Liberation Sans","align":"center","baseline":"middle","color":"black"},
 "encoding":{"x":{"field":"e","type":"quantitative","axis":null},"y":{"field":"v","type":"quantitative","axis":null},"text":{"field":"t"}}}
]}
],
"resolve":{"scale":{"color":"independent"},"legend":{"color":"independent"}},
"config":{
 "view":{"stroke":"black","strokeWidth":2},
 "axis":{"domain":false,"grid":false,"tickColor":"black","tickWidth":2,"labelFont":"Liberation Sans","labelFontSize":30,"labelColor":"black","labelFlush":false,"labelOverlap":false,"titleFont":"Liberation Sans","titleFontSize":36,"titleColor":"black","titleFontWeight":"normal"},
 "legend":{"labelFont":"Liberation Sans"}
}
}
